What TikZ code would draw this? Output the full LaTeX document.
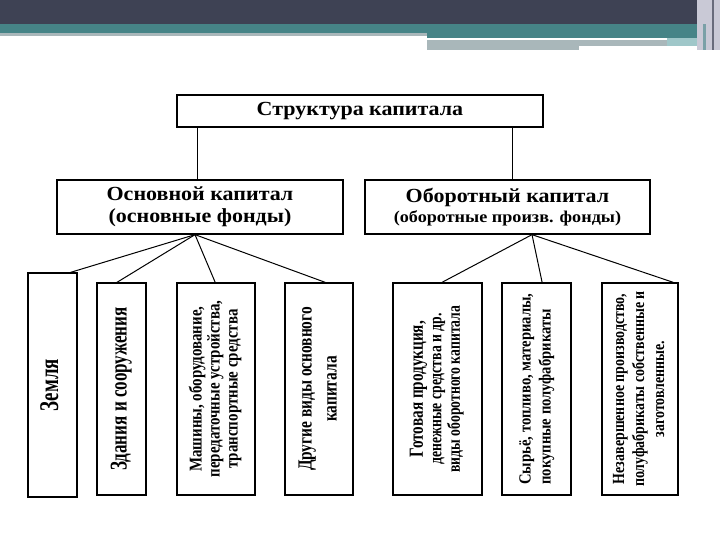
\documentclass[tikz,border=0pt]{standalone}
\usepackage{fontspec}
\setmainfont{Liberation Serif}
\newfontfamily\hf[FakeStretch=1.1]{Liberation Serif}
\usetikzlibrary{calc}
% size, baselineskip, column alignment, horizontal scale, content
\newcommand\vtext[5]{\rotatebox{90}{\scalebox{#4}[1]{\bfseries\fontsize{#1}{#2}\selectfont\begin{tabular}{@{}#3@{}}#5\end{tabular}}}}
\newcommand\htext[3]{{\hf\bfseries\fontsize{#1}{#2}\selectfont #3}}
\definecolor{barDark}{HTML}{3E4254}
\definecolor{barTeal}{HTML}{468487}
\definecolor{barGrey}{HTML}{A9B7BA}
\definecolor{barLight}{HTML}{9FC7C9}
\definecolor{barEdge}{HTML}{C9C9D6}
\begin{document}
\begin{tikzpicture}[x=1pt,y=-1pt,
  box/.style={draw=black, line width=1.3pt, inner sep=0pt, fill=white, align=center},
  link/.style={draw=black, line width=1pt}]
\useasboundingbox (0,0) rectangle (720,540);
\fill[white] (0,0) rectangle (720,540);
% top decoration
\fill[barDark] (0,0) rectangle (720,24);
\fill[barTeal] (0,24) rectangle (720,33);
\fill[barGrey] (0,33) rectangle (427,36.5);
\fill[barTeal] (427,33) rectangle (697,38);
\fill[barGrey] (427,40.5) rectangle (667,46);
\fill[barGrey] (427,46) rectangle (579,50);
\fill[barLight] (667,38) rectangle (697,46);
\fill[barEdge] (697,0) rectangle (720,50);
\fill[barTeal!60!barEdge] (703,24) rectangle (706,50);
\fill[barDark!70!barEdge] (712,0) rectangle (714,50);

% nodes
\node[box, minimum width=366pt, minimum height=32pt] (title) at (360,111)
  {\htext{20}{24}{Структура капитала}};
\node[box, minimum width=286pt, minimum height=54pt,
  font=\hf\bfseries\fontsize{20}{22}\selectfont] (osn) at (200,207)
  {Основной капитал\\(основные фонды)};
\node[box, minimum width=285pt, minimum height=54pt,
  font=\hf\bfseries\fontsize{20}{20}\selectfont] (obo) at (507.5,207)
  {Оборотный капитал\\\htext{16.5}{18}{(оборотные произв. фонды)}};

\node[box, minimum width=49pt, minimum height=224pt] (zem) at (52.5,385)
  {\vtext{27}{28}{c}{0.7}{Земля}};
\node[box, minimum width=49pt, minimum height=212pt] (zd) at (121.5,389)
  {\vtext{24}{26}{c}{0.71}{Здания и сооружения}};
\node[box, minimum width=78pt, minimum height=212pt] (mash) at (216,389)
  {\vtext{18}{18}{c}{0.83}{Машины, оборудование,\\передаточные устройства,\\транспортные средства}};
\node[box, minimum width=68pt, minimum height=212pt] (dr) at (319,389)
  {\vtext{20}{25}{c}{0.77}{Другие виды основного\\капитала}};
\node[box, minimum width=89pt, minimum height=212pt] (got) at (437.5,389)
  {\vtext{18}{18.5}{c}{0.76}{{\fontsize{20}{18.5}\selectfont Готовая продукция,}\\денежные средства и др.\\виды оборотного капитала}};
\node[box, minimum width=69pt, minimum height=212pt] (syr) at (536.5,389)
  {\vtext{17}{20}{l}{0.86}{Сырьё, топливо, материалы,\\покупные полуфабрикаты}};
\node[box, minimum width=76pt, minimum height=212pt] (nez) at (640,389)
  {\vtext{17}{20}{c}{0.82}{Незавершенное производство,\\полуфабрикаты собственные и\\заготовленные.}};

% connectors
\draw[link] ([xshift=-3pt]osn.north) -- ([xshift=-3pt]osn.north |- title.south);
\draw[link] ([xshift=4.5pt]obo.north) -- ([xshift=4.5pt]obo.north |- title.south);

\coordinate (osnJ) at ([xshift=-5pt]osn.south);
\coordinate (oboJ) at ([xshift=24.5pt]obo.south);
\draw[link] (osnJ) -- ($(zem.north west)!0.86!(zem.north east)$);
\draw[link] (osnJ) -- ($(zd.north west)!0.41!(zd.north east)$);
\draw[link] (osnJ) -- ($(mash.north west)!0.49!(mash.north east)$);
\draw[link] (osnJ) -- ($(dr.north west)!0.59!(dr.north east)$);
\draw[link] (oboJ) -- ($(got.north west)!0.55!(got.north east)$);
\draw[link] (oboJ) -- ($(syr.north west)!0.58!(syr.north east)$);
\draw[link] (oboJ) -- ($(nez.north west)!0.93!(nez.north east)$);
\end{tikzpicture}
\end{document}
